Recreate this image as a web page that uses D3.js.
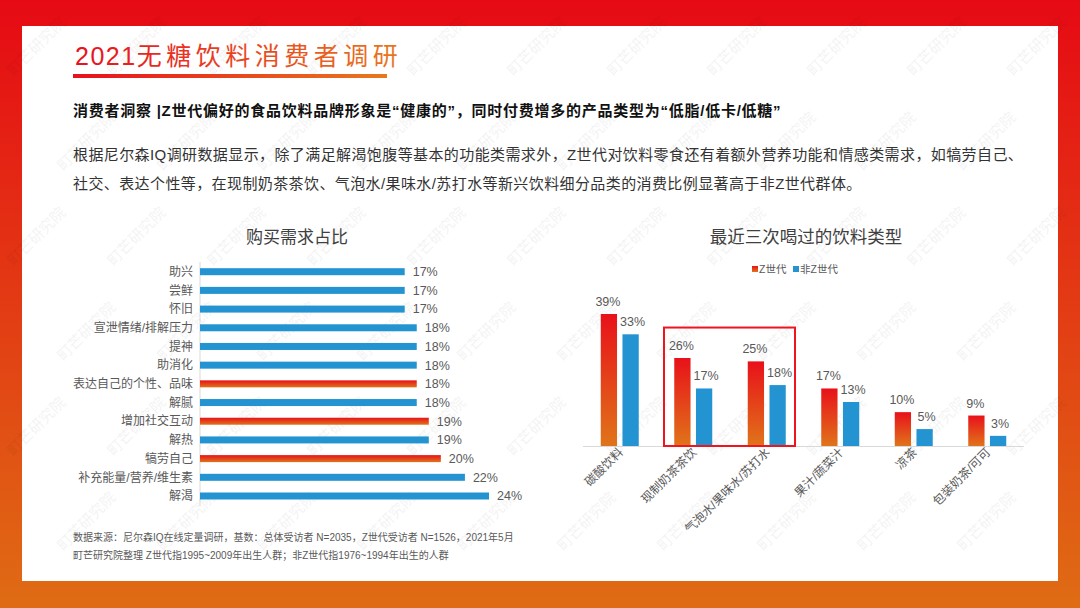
<!DOCTYPE html>
<html>
<head>
<meta charset="utf-8">
<script src="https://cdn.jsdelivr.net/npm/d3@7"></script>
<style>
  body { margin: 0; background: #fff; }
  svg { display: block; font-family: "Liberation Sans", "Noto Sans CJK SC", sans-serif; }
</style>
</head>
<body>
<svg id="chart" width="1080" height="608"></svg>
<script>
"use strict";

// --- data ---
var needCats = ["助兴", "尝鲜", "怀旧", "宣泄情绪/排解压力", "提神", "助消化", "表达自己的个性、品味",
                "解腻", "增加社交互动", "解热", "犒劳自己", "补充能量/营养/维生素", "解渴"];
var needVals = [17, 17, 17, 18, 18, 18, 18, 18, 19, 19, 20, 22, 24];
var needHot = ["表达自己的个性、品味", "增加社交互动", "犒劳自己"];

var drinkCats = ["碳酸饮料", "现制奶茶茶饮", "气泡水/果味水/苏打水", "果汁/蔬菜汁", "凉茶", "包装奶茶/可可"];
var zGen = [39, 26, 25, 17, 10, 9];
var nonZGen = [33, 17, 18, 13, 5, 3];
var seriesNames = ["Z世代", "非Z世代"];
var boxedCats = ["现制奶茶茶饮", "气泡水/果味水/苏打水"];

var titleText = ["2021", "无糖饮料消费者调研"];
var subTitle = "消费者洞察 |Z世代偏好的食品饮料品牌形象是“健康的”，同时付费增多的产品类型为“低脂/低卡/低糖”";
var bodyLines = [
  "根据尼尔森IQ调研数据显示，除了满足解渴饱腹等基本的功能类需求外，Z世代对饮料零食还有着额外营养功能和情感类需求，如犒劳自己、",
  "社交、表达个性等，在现制奶茶茶饮、气泡水/果味水/苏打水等新兴饮料细分品类的消费比例显著高于非Z世代群体。"
];
var notes = [
  "数据来源：尼尔森IQ在线定量调研，基数：总体受访者 N=2035，Z世代受访者 N=1526，2021年5月",
  "町芒研究院整理  Z世代指1995~2009年出生人群；非Z世代指1976~1994年出生的人群"
];

var BLUE = "#2394d1", GREY = "#595959";

var svg = d3.select("#chart");
var defs = svg.append("defs");

function vGrad(id, c1, c2) {
  var g = defs.append("linearGradient").attr("id", id)
    .attr("x1", "0%").attr("y1", "0%").attr("x2", "0%").attr("y2", "100%");
  g.append("stop").attr("offset", "0%").attr("stop-color", c1);
  g.append("stop").attr("offset", "100%").attr("stop-color", c2);
}
vGrad("frameGrad", "#e60a14", "#df6c14");
vGrad("barGrad", "#e8111a", "#e0741a");
var hg = defs.append("linearGradient").attr("id", "titleGrad")
  .attr("x1", "0%").attr("x2", "100%");
hg.append("stop").attr("offset", "0%").attr("stop-color", "#e8101c");
hg.append("stop").attr("offset", "100%").attr("stop-color", "#e8781e");

// frame
svg.append("rect").attr("width", 1080).attr("height", 608).attr("fill", "url(#frameGrad)");
svg.append("rect").attr("x", 22).attr("y", 26).attr("width", 1036).attr("height", 555).attr("fill", "#fff");

// watermark (kept inside the page so no copy is cut at the edge)
var wm = svg.append("g").attr("class", "watermark");
for (var r = 0; r < 7; r++) {
  for (var c = 0; c < 12; c++) {
    var wx = 40 + c * 100 + (r % 2) * 50, wy = 50 + r * 95;
    if (wx < 35 || wx > 1045 || wy > 570) continue;
    wm.append("text").text("町芒研究院")
      .attr("transform", "translate(" + wx + "," + wy + ") rotate(-45)")
      .attr("text-anchor", "middle").attr("font-size", 15)
      .attr("fill", "#000").attr("opacity", 0.045);
  }
}

// title
var tt = svg.append("text").attr("x", 75).attr("y", 65)
  .attr("font-size", 25).attr("fill", "url(#titleGrad)");
tt.append("tspan").attr("letter-spacing", 1.5).text(titleText[0]);
tt.append("tspan").attr("letter-spacing", 4.5).text(titleText[1]);
svg.append("rect").attr("x", 73).attr("y", 74).attr("width", 314).attr("height", 4).attr("fill", "url(#titleGrad)");

svg.append("text").attr("x", 73).attr("y", 116).attr("font-size", 15)
  .attr("letter-spacing", 0.75)
  .attr("font-weight", "bold").attr("fill", "#111").text(subTitle);
svg.selectAll(".body").data(bodyLines).enter().append("text")
  .attr("x", 73).attr("y", function(d, i) { return 160 + i * 29; })
  .attr("font-size", 15).attr("letter-spacing", 0.4)
  .attr("fill", "#333").text(function(d) { return d; });

svg.selectAll(".note").data(notes).enter().append("text")
  .attr("x", 73).attr("y", function(d, i) { return 541 + i * 18; })
  .attr("font-size", 10).attr("fill", GREY).text(function(d) { return d; });

// --- left: horizontal bars ---
svg.append("text").attr("x", 297).attr("y", 243).attr("text-anchor", "middle")
  .attr("font-size", 17).attr("fill", "#404040").text("购买需求占比");

var x = d3.scaleLinear().domain([0, 24]).range([200, 489]);
var y = d3.scalePoint().domain(needCats).range([271.7, 496]);

svg.append("line").attr("x1", 200).attr("x2", 200).attr("y1", 262).attr("y2", 506)
  .attr("stroke", "#d9d9d9");

var rows = svg.append("g").selectAll("g").data(needCats).enter().append("g");
rows.append("rect")
  .attr("x", x(0)).attr("y", function(d) { return y(d) - 3.5; })
  .attr("width", function(d, i) { return x(needVals[i]) - x(0); })
  .attr("height", 7)
  .attr("fill", function(d) { return needHot.indexOf(d) >= 0 ? "url(#barGrad)" : BLUE; });
rows.append("text")
  .attr("x", 193).attr("y", function(d) { return y(d); }).attr("dy", "0.35em")
  .attr("text-anchor", "end").attr("font-size", 12).attr("fill", GREY)
  .text(function(d) { return d; });
rows.append("text")
  .attr("x", function(d, i) { return x(needVals[i]) + 8; })
  .attr("y", function(d) { return y(d); }).attr("dy", "0.35em")
  .attr("font-size", 12.5).attr("fill", GREY)
  .text(function(d, i) { return needVals[i] + "%"; });

// --- right: grouped columns ---
svg.append("text").attr("x", 806).attr("y", 243).attr("text-anchor", "middle")
  .attr("font-size", 17.5).attr("fill", "#404040").text("最近三次喝过的饮料类型");

var legend = svg.append("g").selectAll("g").data(seriesNames).enter().append("g")
  .attr("transform", function(d, i) { return "translate(" + (752 + i * 41) + ",265)"; });
legend.append("rect").attr("width", 6).attr("height", 6).attr("y", 1)
  .attr("fill", function(d, i) { return i === 0 ? "url(#barGrad)" : BLUE; });
legend.append("text").attr("x", 7).attr("y", 4).attr("dy", "0.35em")
  .attr("font-size", 10.5).attr("fill", GREY).text(function(d) { return d; });

var x0 = d3.scaleBand().domain(drinkCats).range([583, 1024]);
var x1 = d3.scaleBand().domain(seriesNames).range([-19, 19]).paddingInner(0.25);
var y2 = d3.scaleLinear().domain([0, 39]).range([446, 314]);

svg.append("line").attr("x1", 583).attr("x2", 1024).attr("y1", 446.5).attr("y2", 446.5)
  .attr("stroke", "#d9d9d9");

var groups = svg.append("g").selectAll("g").data(drinkCats).enter().append("g")
  .attr("transform", function(d) { return "translate(" + (x0(d) + x0.bandwidth() / 2) + ",0)"; });

groups.selectAll("rect")
  .data(function(d, i) { return [{ s: seriesNames[0], v: zGen[i] }, { s: seriesNames[1], v: nonZGen[i] }]; })
  .enter().append("rect")
  .attr("x", function(d) { return x1(d.s); })
  .attr("y", function(d) { return y2(d.v); })
  .attr("width", x1.bandwidth())
  .attr("height", function(d) { return y2(0) - y2(d.v); })
  .attr("fill", function(d) { return d.s === seriesNames[0] ? "url(#barGrad)" : BLUE; });

groups.selectAll(".val")
  .data(function(d, i) { return [{ s: seriesNames[0], v: zGen[i] }, { s: seriesNames[1], v: nonZGen[i] }]; })
  .enter().append("text")
  .attr("x", function(d) { return x1(d.s) + x1.bandwidth() / 2 + (d.s === seriesNames[0] ? -1 : 2); })
  .attr("y", function(d) { return y2(d.v) - 8; })
  .attr("text-anchor", "middle").attr("font-size", 12.5).attr("fill", GREY)
  .text(function(d) { return d.v + "%"; });

groups.append("text")
  .attr("transform", "translate(4,453) rotate(-45)")
  .attr("text-anchor", "end").attr("font-size", 12).attr("fill", GREY)
  .text(function(d) { return d; });

// highlight box around the two new categories
svg.append("rect")
  .attr("x", x0(boxedCats[0]) + 7.5)
  .attr("y", y2(35))
  .attr("width", x0(boxedCats[1]) + x0.bandwidth() - 8.5 - (x0(boxedCats[0]) + 7.5))
  .attr("height", y2(0) - y2(35))
  .attr("fill", "none").attr("stroke", "#f0141e").attr("stroke-width", 2);
</script>
</body>
</html>
